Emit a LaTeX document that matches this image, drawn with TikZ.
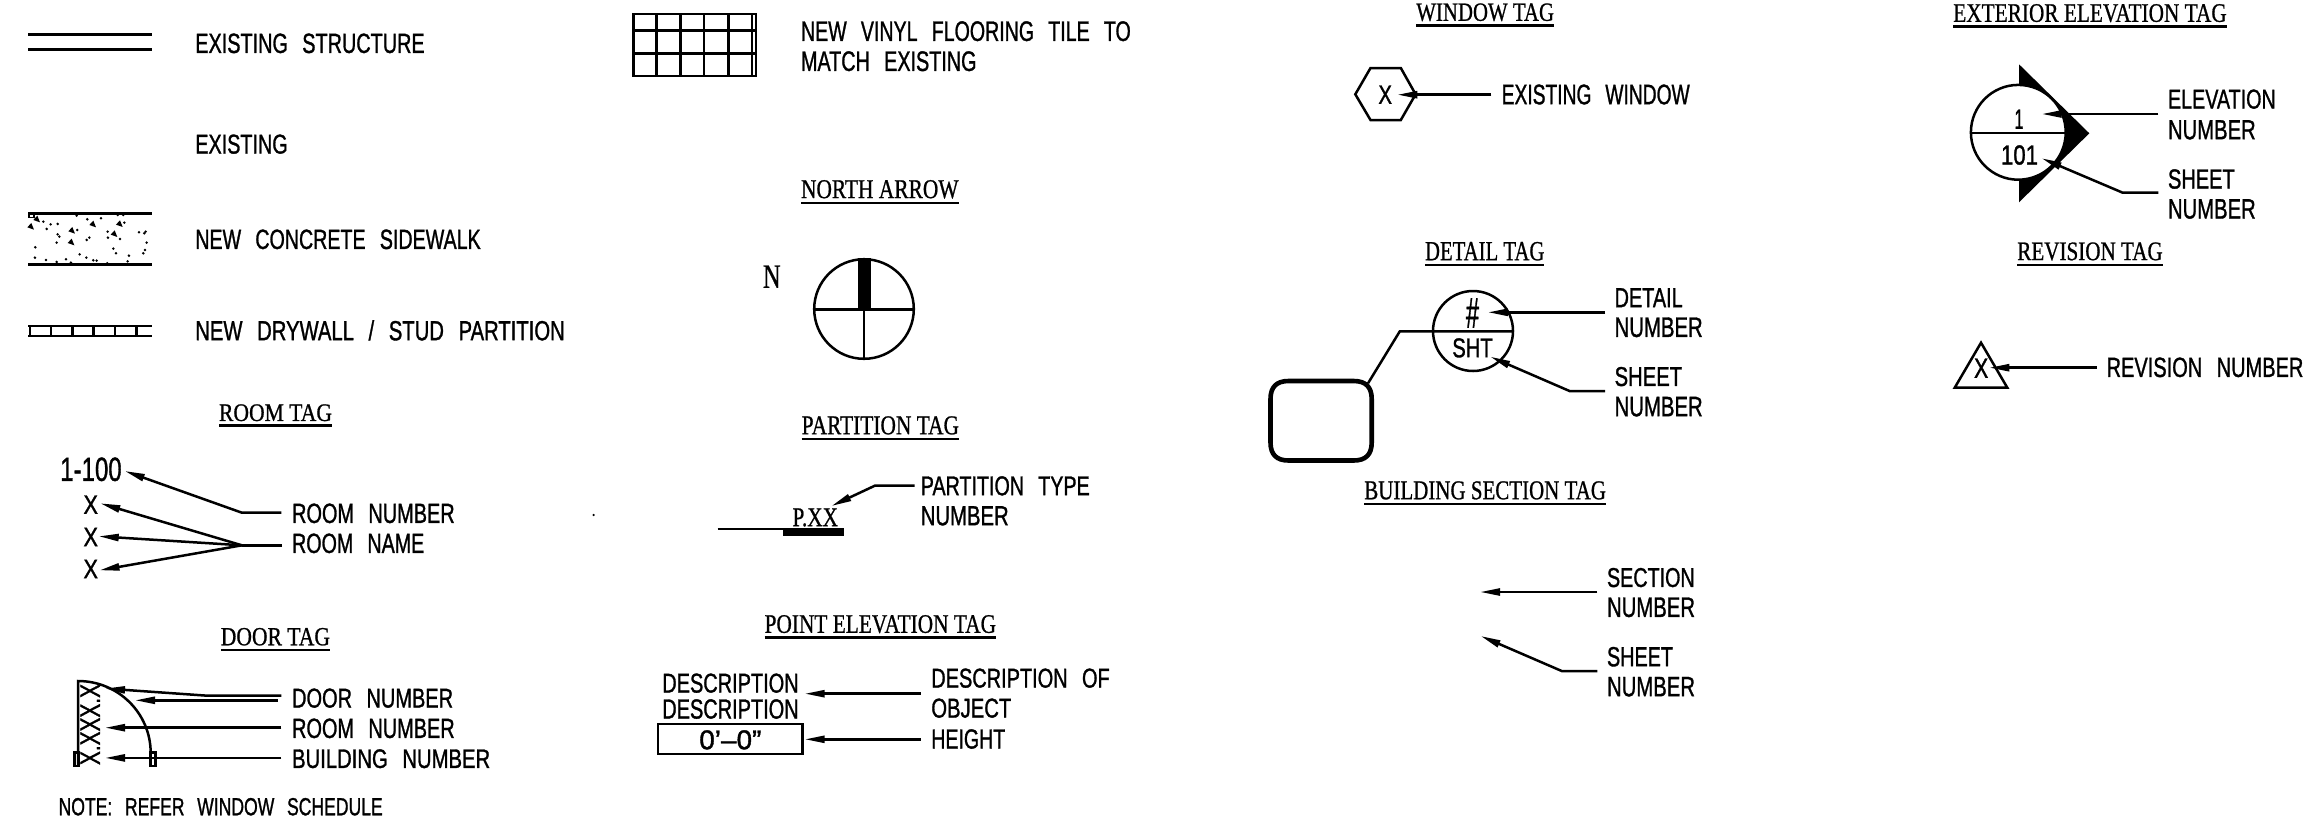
\documentclass[tikz,border=0pt]{standalone}
\usepackage{graphicx}
\usepackage{fontspec}
\usetikzlibrary{arrows.meta}
\newfontfamily\cadfont[WordSpace=2.6,FakeBold=1.3]{Liberation Sans}
\newfontfamily\cadserif[FakeBold=0.9]{Liberation Serif}
\newcommand\fitbox[6]{% name x1 y1 x2 y2 text
  \pgfmathsetlengthmacro\cadw{#4-(#2)}\pgfmathsetlengthmacro\cadh{#5-(#3)}%
  \node[anchor=south west,inner sep=0pt,outer sep=0pt] (#1) at (#2,#5+0.5) {\resizebox{\cadw}{\cadh}{#6}};}
\newcommand\cadtext[6]{\fitbox{#1}{#2-0.7}{#3}{#4+0.7}{#5}{\cadfont #6}}
\newcommand\cadchar[6]{\fitbox{#1}{#2}{#3}{#4}{#5}{\cadfont #6}}
\newcommand\cadhead[6]{\fitbox{#1}{#2}{#3}{#4}{#5}{\cadserif #6}
  \draw[uline] (#1.south west |- 0,#5+5) -- (#1.south east |- 0,#5+5);}
\tikzset{
  ln/.style={line width=2.5pt,line join=miter},
  uline/.style={line width=2.8pt},
  leader/.style={line width=2.5pt,line join=miter,-{Triangle[length=20pt,width=7pt]}},
}
\begin{document}
\begin{tikzpicture}[x=1pt,y=-1pt]
\useasboundingbox (0,0) rectangle (2304,831);

% ---- legend left column
\draw[ln] (28,34.3) -- (151.5,34.3) (28,49.7) -- (151.5,49.7);
\cadtext{t1}{196}{33.3}{424}{52.7}{EXISTING STRUCTURE}
\cadtext{t2}{196}{134.3}{287}{153.3}{EXISTING}
\draw[ln] (28,213.3) -- (151.5,213.3) (28,264.3) -- (151.5,264.3);
\begin{scope}[x=0.3333pt,y=-0.3333pt,shift={(60,600)}]
  \foreach \a/\b in {170/47,70/65,92/73,113/72,80/87,113/103,118/110,110/128,172/90,202/58,243/55,293/45,310/45,313/68,263/95,264/113,300/117,357/97,377/95,373/100,380/128,208/113,200/120,46/142,45/173,78/180,110/186,138/178,153/188,179/163,199/173,220/181,230/182,262/190,280/146,288/160,327/167,323/184,375/150,370/160}
    \fill (\a,\b) circle (1.4pt);
  \foreach \a/\b in {50/58,32/80,155/92,218/73,298/72,282/102,153/127}
    \fill (\a-10,\b+2) -- (\a+2,\b-11) -- (\a+10,\b+9) -- cycle;
  \draw[line width=1.6pt] (27,40) rectangle (42,52);
\end{scope}
\cadtext{t3}{196}{229.3}{480}{248.7}{NEW CONCRETE SIDEWALK}
\draw[ln] (28,326) -- (151.5,326) (28,336) -- (151.5,336);
\foreach \a in {30,51,72.3,93.7,115,136.3} \draw[ln] (\a,326) -- (\a,336);
\cadtext{t4}{196}{320.7}{564}{340}{NEW DRYWALL \smash{/} STUD PARTITION}

% ---- room tag
\cadhead{h1}{219}{404}{332}{420.7}{ROOM TAG}
\cadtext{r0}{61}{457.3}{121}{480.7}{1-100}
\cadchar{r1}{83.5}{495}{98}{513.3}{X}
\cadchar{r2}{83.5}{527.3}{98}{545.7}{X}
\cadchar{r3}{83.5}{559.3}{98}{577.7}{X}
\cadtext{r4}{292.8}{503.3}{454}{522.7}{ROOM NUMBER}
\cadtext{r5}{292.8}{533.3}{423.6}{552.7}{ROOM NAME}
\coordinate (ra) at (281.3,512.7); \coordinate (rb) at (241.9,512.7); \coordinate (rc) at (124.8,471);
\coordinate (rd) at (282,545.3); \coordinate (re) at (241.9,545.3);
\coordinate (rf) at (100.3,503.3); \coordinate (rg) at (98.7,536.3); \coordinate (rh) at (99.5,570.3);
\draw[leader] (ra) -- (rb) -- (rc);
\draw[ln] (rd) -- (re);
\draw[leader] (re) -- (rf);
\draw[leader] (re) -- (rg);
\draw[leader] (re) -- (rh);

% ---- door tag
\cadhead{h2}{220.8}{627.7}{330}{645}{DOOR TAG}
\draw[ln] (150.7,753) .. controls (150.7,713) and (118,681) .. (78,681) -- (78,766);
\draw[ln] (74.3,752.7) rectangle (79,766);
\draw[ln] (150.7,752.7) rectangle (155.7,766);
\node[inner sep=0pt,outer sep=0pt,rotate=90] (dx) at (90.3,724.5) {\resizebox{81pt}{19.3pt}{\cadfont X.XXX.X}};
\cadtext{d1}{292.8}{688.3}{452.4}{707.3}{DOOR NUMBER}
\cadtext{d2}{292.8}{718.3}{454}{737.7}{ROOM NUMBER}
\cadtext{d3}{292.8}{749}{489.5}{767.7}{BUILDING NUMBER}
\coordinate (da) at (281.3,695.5); \coordinate (db) at (204.7,695.5); \coordinate (dc) at (105,688.5);
\coordinate (dd) at (277.5,700.3); \coordinate (de) at (135,700.3);
\coordinate (df) at (281.3,727.7); \coordinate (dg) at (105,727.7);
\coordinate (dh) at (281.3,757.9); \coordinate (di) at (105,757.9);
\draw[leader] (da) -- (db) -- (dc);
\draw[leader] (dd) -- (de);
\draw[leader] (df) -- (dg);
\draw[leader] (dh) -- (di);
\cadtext{n1}{59.3}{797.7}{382}{815}{NOTE: REFER WINDOW SCHEDULE}
\fill (593.6,515) circle (1.2pt);

% ---- vinyl tile
\draw[ln] (633.3,14) rectangle (755.8,76);
\foreach \a in {656.3,680.4,704.1,728.6,751.9} \draw[ln] (\a,14) -- (\a,76);
\foreach \a in {30.7,53.3} \draw[ln] (633.3,\a) -- (755.8,\a);
\cadtext{v1}{801.7}{21}{1130}{40.7}{NEW VINYL FLOORING TILE TO}
\cadtext{v2}{801.7}{51}{975.8}{70.7}{MATCH EXISTING}

% ---- north arrow
\cadhead{h3}{801}{180}{958.6}{198}{NORTH ARROW}
\fitbox{nn}{763}{265}{780.6}{287.3}{\cadserif N}
\draw[ln] (864,309) circle (49.8);
\draw[ln] (814.2,309.3) -- (913.8,309.3) (864,309.3) -- (864,358.8);
\fill (858.3,258) rectangle (870.6,309.3);

% ---- partition tag
\cadhead{h4}{801.7}{416}{959}{434}{PARTITION TAG}
\fitbox{px}{792.5}{508.3}{838}{526}{\cadserif P.XX}
\fill (782.5,528.3) rectangle (844.2,536);
\draw[ln] (717.5,529) -- (782.5,529);
\cadtext{p1}{921.5}{476}{1089}{495}{PARTITION TYPE}
\cadtext{p2}{921.5}{506}{1008}{525}{NUMBER}
\coordinate (pa) at (914.6,485.7); \coordinate (pb) at (874.8,485.7); \coordinate (pc) at (831.5,506);
\draw[leader] (pa) -- (pb) -- (pc);

% ---- point elevation tag
\cadhead{h5}{764.6}{615}{996}{632.7}{POINT ELEVATION TAG}
\cadtext{e1}{663}{673.3}{797.9}{692.3}{DESCRIPTION}
\cadtext{e2}{663}{699}{797.9}{718.3}{DESCRIPTION}
\draw[ln] (658,724) rectangle (802.5,754);
\cadtext{e3}{700}{730}{760.7}{749}{0’–0”}
\cadtext{e4}{932}{668.3}{1109}{687.3}{DESCRIPTION OF}
\cadtext{e5}{932}{698.3}{1010.6}{717.3}{OBJECT}
\cadtext{e6}{932}{729}{1004.5}{748.3}{HEIGHT}
\coordinate (ea) at (920.7,693.7); \coordinate (eb) at (804.7,693.7);
\coordinate (ec) at (920.7,739.3); \coordinate (ed) at (804.7,739.3);
\draw[leader] (ea) -- (eb);
\draw[leader] (ec) -- (ed);

% ---- window tag
\cadhead{h6}{1416.3}{3.3}{1554}{20.7}{WINDOW TAG}
\draw[ln] (1355.3,94.3) -- (1370.5,68) -- (1400.8,68) -- (1415.6,94.3) -- (1400.8,120) -- (1370.5,120) -- cycle;
\cadchar{w1}{1378.4}{85}{1392}{103.3}{X}
\cadtext{w2}{1502.4}{84.3}{1689}{104}{EXISTING WINDOW}
\coordinate (wa) at (1491.4,94.7); \coordinate (wb) at (1397.3,94.7);
\draw[leader] (wa) -- (wb);

% ---- detail tag
\cadhead{h7}{1425}{241.7}{1544.4}{260}{DETAIL TAG}
\draw[ln] (1473,331) circle (40);
\draw[ln] (1513,331.3) -- (1399.8,331.3) -- (1368,383.3);
\cadchar{g1}{1466}{298}{1479}{327}{\#}
\cadtext{g2}{1453}{338}{1492}{357}{SHT}
\draw[line width=4.6pt] (1270.5,399) .. controls (1270.5,387) and (1276.5,381) .. (1288.5,381) -- (1353.7,381) .. controls (1365.7,381) and (1371.7,387) .. (1371.7,399) -- (1371.7,442.5) .. controls (1371.7,454.5) and (1365.7,460.5) .. (1353.7,460.5) -- (1288.5,460.5) .. controls (1276.5,460.5) and (1270.5,454.5) .. (1270.5,442.5) -- cycle;
\cadtext{g3}{1615.3}{287.7}{1682}{306.7}{DETAIL}
\cadtext{g4}{1615.3}{317.3}{1702}{336.7}{NUMBER}
\cadtext{g5}{1615.3}{366.7}{1681.4}{385.7}{SHEET}
\cadtext{g6}{1615.3}{396.7}{1702}{416}{NUMBER}
\coordinate (ga) at (1605,312.3); \coordinate (gb) at (1487.9,312.3);
\coordinate (gc) at (1605,391); \coordinate (gd) at (1569.5,391); \coordinate (ge) at (1490.3,356.7);
\draw[leader] (ga) -- (gb);
\draw[leader] (gc) -- (gd) -- (ge);

% ---- building section tag
\cadhead{h8}{1364.3}{481}{1606}{499}{BUILDING SECTION TAG}
\cadtext{b1}{1607.7}{567.7}{1694}{586.7}{SECTION}
\cadtext{b2}{1607.7}{597.3}{1694.3}{616.7}{NUMBER}
\cadtext{b3}{1607.7}{646.7}{1672.3}{666}{SHEET}
\cadtext{b4}{1607.7}{676.7}{1694.3}{696}{NUMBER}
\coordinate (ba) at (1597.3,592); \coordinate (bb) at (1480,592);
\coordinate (bc) at (1597.3,671); \coordinate (bd) at (1561.7,671); \coordinate (be) at (1480.7,636);
\draw[leader] (ba) -- (bb);
\draw[leader] (bc) -- (bd) -- (be);

% ---- exterior elevation tag
\cadhead{h9}{1953.3}{4}{2226.7}{21.7}{EXTERIOR ELEVATION TAG}
\fill (2019,64.3) -- (2089.3,133.3) -- (2019,202.3) -- cycle;
\draw[ln,fill=white] (2018.3,132.3) circle (47.4);
\draw[ln] (1971,133) -- (2065.7,133);
\cadchar{x1}{2014.5}{109}{2023.5}{128.3}{1}
\cadtext{x2}{2001.7}{145}{2037.3}{164.3}{101}
\cadtext{x3}{2168.7}{89.3}{2275}{108.3}{ELEVATION}
\cadtext{x4}{2168.7}{120}{2255}{139}{NUMBER}
\cadtext{x5}{2168.7}{169}{2234}{188.3}{SHEET}
\cadtext{x6}{2168.7}{199}{2255}{218.3}{NUMBER}
\coordinate (xa) at (2158.3,114); \coordinate (xb) at (2041.7,114);
\coordinate (xc) at (2158.3,192.7); \coordinate (xd) at (2122.7,192.7); \coordinate (xe) at (2041.7,158.3);
\draw[leader] (xa) -- (xb);
\draw[leader] (xc) -- (xd) -- (xe);

% ---- revision tag
\cadhead{h10}{2017.3}{242.3}{2162.7}{260}{REVISION TAG}
\draw[ln] (1981,342.7) -- (2007.3,387.7) -- (1954.7,387.7) -- cycle;
\cadchar{y1}{1974}{358}{1988.3}{377.3}{X}
\cadtext{y2}{2107.3}{357.3}{2302.7}{376.7}{REVISION NUMBER}
\coordinate (ya) at (2096.7,367.7); \coordinate (yb) at (1989.3,367.7);
\draw[leader] (ya) -- (yb);
\end{tikzpicture}
\end{document}
